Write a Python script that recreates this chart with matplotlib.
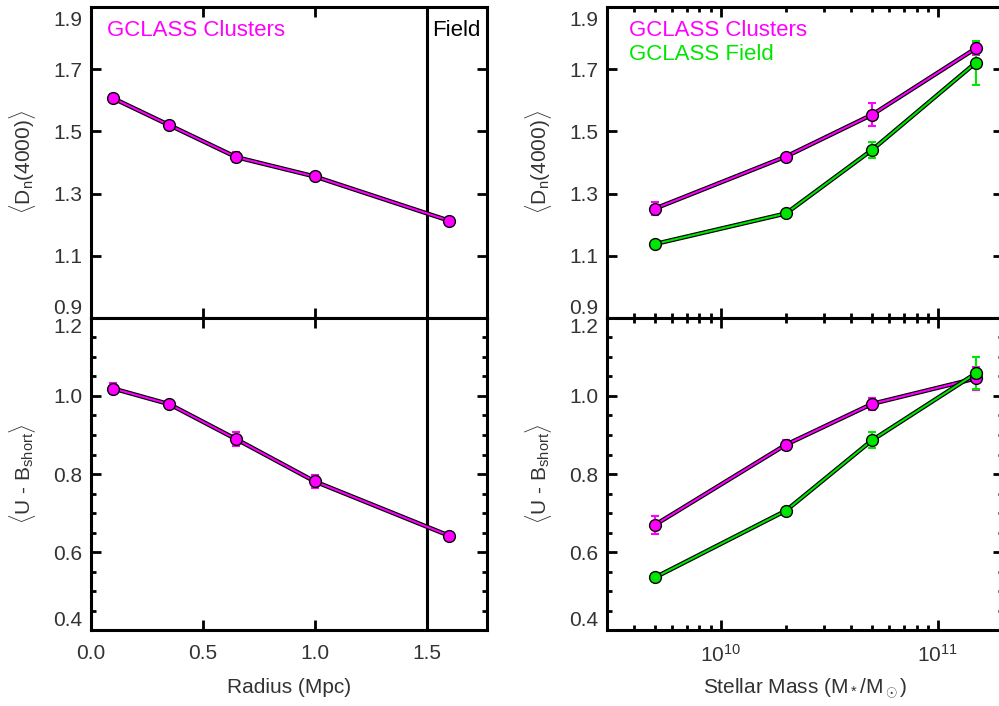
import matplotlib
matplotlib.use("Agg")
import matplotlib.pyplot as plt
import matplotlib.patheffects as pe
import matplotlib.transforms as mtransforms
from matplotlib.ticker import MultipleLocator, NullFormatter

plt.rcParams['font.family'] = ['Liberation Sans', 'DejaVu Sans']
plt.rcParams['mathtext.fontset'] = 'custom'
plt.rcParams['mathtext.rm'] = 'Liberation Sans'
plt.rcParams['mathtext.it'] = 'Liberation Sans:italic'
plt.rcParams['mathtext.bf'] = 'Liberation Sans:bold'

MAGENTA = '#ff00ff'
GREEN = '#00e600'
TXT = '#333333'

# radius bins (Mpc)
radius = [0.1, 0.35, 0.65, 1.0, 1.6]
dn_rad = [1.606, 1.520, 1.417, 1.355, 1.213]
dn_rad_err = [0.013, 0.006, 0.016, 0.012, 0.005]
ub_rad = [1.019, 0.979, 0.889, 0.781, 0.642]
ub_rad_err = [0.015, 0.006, 0.018, 0.017, 0.005]

# stellar mass bins
mass = [5e9, 2e10, 5e10, 1.5e11]
dn_clus = [1.252, 1.419, 1.554, 1.767]
dn_clus_err = [0.022, 0.008, 0.037, 0.02]
dn_field = [1.138, 1.236, 1.441, 1.721]
dn_field_err = [0.005, 0.006, 0.025, 0.071]
ub_clus = [0.670, 0.875, 0.980, 1.045]
ub_clus_err = [0.023, 0.013, 0.016, 0.03]
ub_field = [0.535, 0.706, 0.887, 1.058]
ub_field_err = [0.005, 0.006, 0.021, 0.041]

dn_ticks = [0.9, 1.1, 1.3, 1.5, 1.7, 1.9]
ub_ticks = [0.4, 0.6, 0.8, 1.0, 1.2]

FS = 15

fig = plt.figure(figsize=(9.99, 7.06), dpi=100)
W = 0.3964
ax_tl = fig.add_axes([0.0911, 0.5496, W, 0.4405])
ax_bl = fig.add_axes([0.0911, 0.1076, W, 0.4420])
ax_tr = fig.add_axes([0.6076, 0.5496, W, 0.4405])
ax_br = fig.add_axes([0.6076, 0.1076, W, 0.4420])

outline = [pe.Stroke(linewidth=3.2, foreground='black'), pe.Normal()]


def series(ax, x, y, err, col):
    ax.errorbar(x, y, yerr=err, fmt='none', ecolor=col, elinewidth=1.5,
                capsize=3, capthick=1.5, zorder=3)
    ax.plot(x, y, '-', color=col, lw=1.5, path_effects=outline, zorder=2)
    ax.plot(x, y, 'o', color=col, ms=8.5, mec='black', mew=1.0, zorder=4)


def style(ax):
    for s in ax.spines.values():
        s.set_linewidth(2.2)
    ax.tick_params(which='both', direction='in', top=True, right=True,
                   colors='black', labelcolor=TXT, labelsize=FS, width=2)
    ax.tick_params(which='major', length=7)
    ax.tick_params(which='minor', length=3.5)
    ax.tick_params(axis='x', which='both', pad=10)
    ax.tick_params(axis='y', which='both', pad=6)


# left column: radius
for ax in (ax_tl, ax_bl):
    ax.set_xlim(0, 1.77)
    ax.xaxis.set_major_locator(MultipleLocator(0.5))
    ax.axvline(1.5, color='black', lw=2.2, zorder=1)
    style(ax)

series(ax_tl, radius, dn_rad, dn_rad_err, MAGENTA)
series(ax_bl, radius, ub_rad, ub_rad_err, MAGENTA)

# right column: stellar mass
for ax in (ax_tr, ax_br):
    ax.set_xscale('log')
    ax.set_xlim(3e9, 2e11)
    style(ax)

series(ax_tr, mass, dn_clus, dn_clus_err, MAGENTA)
series(ax_tr, mass, dn_field, dn_field_err, GREEN)
series(ax_br, mass, ub_clus, ub_clus_err, MAGENTA)
series(ax_br, mass, ub_field, ub_field_err, GREEN)

for ax in (ax_tl, ax_tr):
    ax.set_ylim(0.9, 1.9)
    ax.set_yticks(dn_ticks)
    ax.set_yticklabels([f'{t:.1f}' for t in dn_ticks])
    ax.xaxis.set_major_formatter(NullFormatter())
    ax.xaxis.set_minor_formatter(NullFormatter())
    ax.set_ylabel(r'$\langle$D$_\mathrm{n}$(4000)$\rangle$', fontsize=FS, color=TXT)

for ax in (ax_bl, ax_br):
    ax.set_ylim(0.4, 1.2)
    ax.set_yticks(ub_ticks)
    ax.set_yticklabels([f'{t:.1f}' for t in ub_ticks])
    ax.yaxis.set_minor_locator(MultipleLocator(0.05))
    ax.set_ylabel(r'$\langle$U - B$_\mathrm{short}$$\rangle$', fontsize=FS, color=TXT)

# end labels kept inside their own panel, as in the original
for ax in (ax_tl, ax_bl, ax_tr, ax_br):
    ax.yaxis.set_label_coords(-0.135, 0.5)
    labs = ax.get_yticklabels()
    labs[0].set_va('bottom')
    labs[-1].set_va('top')
    if ax in (ax_tl, ax_tr):
        labs[-1].set_transform(labs[-1].get_transform() +
                               mtransforms.ScaledTranslation(0, -4 / 100, fig.dpi_scale_trans))

ax_bl.set_xlabel('Radius (Mpc)', fontsize=FS, color=TXT, labelpad=11)
ax_br.set_xlabel(r'Stellar Mass (M$_*$/M$_\odot$)', fontsize=FS, color=TXT, labelpad=8)

ax_tl.text(0.04, 0.925, 'GCLASS Clusters', transform=ax_tl.transAxes,
           color=MAGENTA, fontsize=16, va='center')
ax_tl.text(0.862, 0.925, 'Field', transform=ax_tl.transAxes,
           color='black', fontsize=16, va='center')
ax_tr.text(0.055, 0.925, 'GCLASS Clusters', transform=ax_tr.transAxes,
           color=MAGENTA, fontsize=16, va='center')
ax_tr.text(0.055, 0.848, 'GCLASS Field', transform=ax_tr.transAxes,
           color=GREEN, fontsize=16, va='center')

fig.savefig('out.png', dpi=100)
